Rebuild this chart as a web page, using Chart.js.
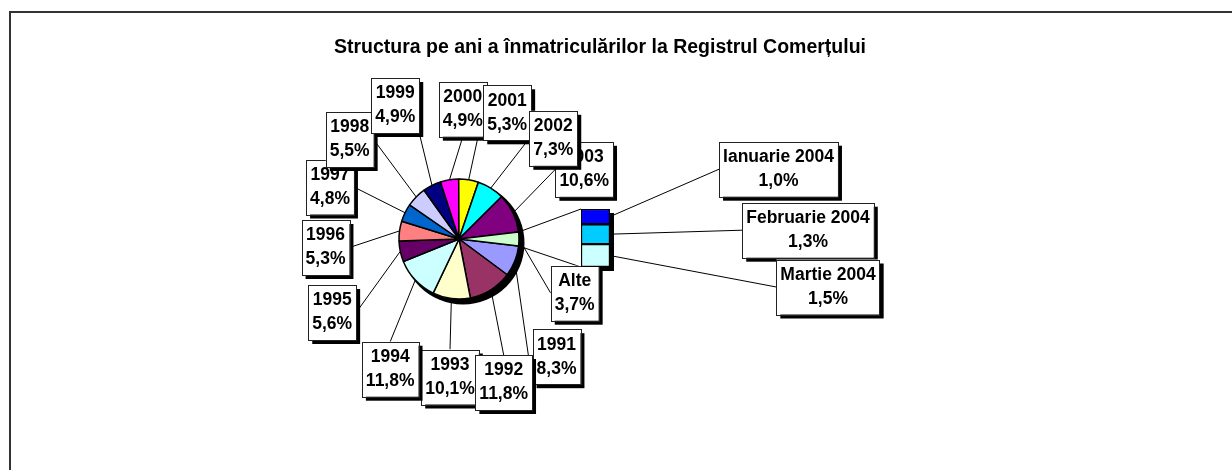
<!DOCTYPE html>
<html>
<head>
<meta charset="utf-8">
<script src="https://cdn.jsdelivr.net/npm/chart.js@4.4.1/dist/chart.umd.min.js"></script>
<style>
html,body{margin:0;padding:0;background:#fff;overflow:hidden;}
#wrap{position:relative;width:1232px;height:470px;background:#fff;}
#pieCanvas{position:absolute;left:0;top:0;z-index:0;}
#barCanvas{position:absolute;left:580px;top:208px;z-index:1;}
</style>
</head>
<body>
<div id="wrap">
<canvas id="pieCanvas" width="1232" height="470"></canvas>
<canvas id="barCanvas" width="38" height="67"></canvas>
</div>
<script>
// ---------- data ----------
const chartTitle = 'Structura pe ani a înmatriculărilor la Registrul Comerțului';
const pieCategories = ['1991','1992','1993','1994','1995','1996','1997','1998','1999','2000','2001','2002','2003','Alte'];
const pieValues = [8.3, 11.8, 10.1, 11.8, 5.6, 5.3, 4.8, 5.5, 4.9, 4.9, 5.3, 7.3, 10.6, 3.7];
const barCategories = ['Ianuarie 2004', 'Februarie 2004', 'Martie 2004'];
const barValues = [1.0, 1.3, 1.5];

// ---------- styles ----------
const pieColors = ['#9999FF','#993366','#FFFFCC','#CCFFFF','#660066','#FF8080','#0066CC','#CCCCFF','#000080','#FF00FF','#FFFF00','#00FFFF','#800080','#CCFFCC'];
const barColors = ['#0000FF','#00CCFF','#CCFFFF'];
const labelFont = 'bold 17.5px "Liberation Sans", Arial, sans-serif';
const titleFont = 'bold 19.5px "Liberation Sans", Arial, sans-serif';

// label box layout (box centre + where the leader line attaches)
const labelLayout = {
  '1991': {cx: 556.5, cy: 356.7, anchor: 'bl'},
  '1992': {cx: 503.7, cy: 382.5, anchor: 'top'},
  '1993': {cx: 450.0, cy: 377.0, anchor: 'top'},
  '1994': {cx: 390.2, cy: 369.2, anchor: 'top'},
  '1995': {cx: 332.2, cy: 312.5, anchor: 'right'},
  '1996': {cx: 325.5, cy: 247.5, anchor: 'right'},
  '1997': {cx: 330.0, cy: 187.0, anchor: 'right'},
  '1998': {cx: 349.7, cy: 139.5, anchor: 'right'},
  '1999': {cx: 395.3, cy: 105.5, anchor: 'br'},
  '2000': {cx: 462.8, cy: 109.2, anchor: 'bottom'},
  '2001': {cx: 507.2, cy: 112.8, anchor: 'left'},
  '2002': {cx: 553.3, cy: 138.3, anchor: 'left'},
  '2003': {cx: 584.2, cy: 169.3, anchor: 'left'},
  'Alte': {cx: 574.7, cy: 293.2, anchor: 'left'},
  'Ianuarie 2004': {cx: 778.5, cy: 169.2, anchor: 'left'},
  'Februarie 2004': {cx: 808.0, cy: 230.2, anchor: 'left'},
  'Martie 2004': {cx: 828.0, cy: 287.0, anchor: 'left'}
};
const boxDrawOrder = ['1991','1993','1992','1994','1995','1996','1997','1998','1999','2000','2001','2003','2002','Alte','Ianuarie 2004','Februarie 2004','Martie 2004'];
const barCanvasOffset = {x: 580, y: 208};

const pieTotal = pieValues.reduce((a, b) => a + b, 0);
const barTotal = barValues.reduce((a, b) => a + b, 0);
const otherShare = pieValues[pieValues.length - 1] / pieTotal;
const pieRotation = 90 + otherShare * 360 / 2;

const fmt = v => v.toFixed(1).replace('.', ',') + '%';

// ---------- bar chart (breakdown of "Alte") ----------
const barChart = new Chart(document.getElementById('barCanvas'), {
  type: 'bar',
  data: {
    labels: [''],
    datasets: barCategories.map((c, i) => ({
      label: c,
      data: [barValues[i]],
      backgroundColor: barColors[i],
      borderColor: '#000',
      borderWidth: 1.5,
      borderSkipped: false,
      barPercentage: 1,
      categoryPercentage: 1
    }))
  },
  options: {
    responsive: false,
    animation: false,
    devicePixelRatio: 1,
    layout: {padding: {left: 1, top: 1, right: 8, bottom: 8}},
    plugins: {legend: {display: false}, tooltip: {enabled: false}, title: {display: false}},
    scales: {
      x: {display: false, stacked: true},
      y: {display: false, stacked: true, reverse: true, min: 0, max: barTotal}
    }
  }
});

function barExtent() {
  let l = Infinity, r = -Infinity, t = Infinity, b = -Infinity;
  barChart.data.datasets.forEach((ds, i) => {
    barChart.getDatasetMeta(i).data.forEach(el => {
      l = Math.min(l, el.x - el.width / 2); r = Math.max(r, el.x + el.width / 2);
      t = Math.min(t, el.y, el.base); b = Math.max(b, el.y, el.base);
    });
  });
  return {l: l + barCanvasOffset.x, r: r + barCanvasOffset.x, t: t + barCanvasOffset.y, b: b + barCanvasOffset.y};
}

// ---------- pie chart with labels ----------
function boxRect(ctx, name, lines) {
  const L = labelLayout[name];
  ctx.font = labelFont;
  const w = Math.max(...lines.map(s => ctx.measureText(s).width)) + 8;
  const h = 55;
  return {l: L.cx - w / 2, r: L.cx + w / 2, t: L.cy - h / 2, b: L.cy + h / 2, w, h, cx: L.cx, cy: L.cy};
}
function anchorOf(b, a) {
  switch (a) {
    case 'top': return [b.cx, b.t];
    case 'bottom': return [b.cx, b.b];
    case 'left': return [b.l, b.cy];
    case 'right': return [b.r, b.cy];
    case 'bl': return [b.l, b.b];
    case 'br': return [b.r, b.b];
  }
  return [b.cx, b.cy];
}
function labelLines(name) {
  const pi = pieCategories.indexOf(name);
  if (pi >= 0) return [name, fmt(pieValues[pi])];
  const bi = barCategories.indexOf(name);
  return [name, fmt(barValues[bi])];
}
function line(ctx, x1, y1, x2, y2) {
  ctx.beginPath(); ctx.moveTo(x1, y1); ctx.lineTo(x2, y2); ctx.stroke();
}

const decorPlugin = {
  id: 'decor',
  beforeDraw(chart) {
    const ctx = chart.ctx;
    ctx.save();
    ctx.strokeStyle = '#333';
    ctx.lineWidth = 2;
    ctx.strokeRect(10, 12, 1600, 800);
    ctx.fillStyle = '#000';
    ctx.font = titleFont;
    ctx.textAlign = 'center';
    ctx.textBaseline = 'alphabetic';
    ctx.fillText(chartTitle, 600, 52.5);
    ctx.restore();
  },
  beforeDatasetsDraw(chart) {
    const ctx = chart.ctx;
    const arcs = chart.getDatasetMeta(0).data;
    ctx.save();
    ctx.strokeStyle = '#000';
    ctx.lineWidth = 1;
    // leader lines from the slices
    arcs.forEach((arc, i) => {
      const name = pieCategories[i];
      const mid = (arc.startAngle + arc.endAngle) / 2;
      const px = arc.x + Math.cos(mid) * arc.outerRadius;
      const py = arc.y + Math.sin(mid) * arc.outerRadius;
      const b = boxRect(ctx, name, labelLines(name));
      const [ax, ay] = anchorOf(b, labelLayout[name].anchor);
      line(ctx, px, py, ax, ay);
    });
    // leader lines from the bar segments
    barChart.data.datasets.forEach((ds, i) => {
      barChart.getDatasetMeta(i).data.forEach(el => {
        const name = barCategories[i];
        const rx = barCanvasOffset.x + el.x + el.width / 2;
        const my = barCanvasOffset.y + (el.y + el.base) / 2;
        const b = boxRect(ctx, name, labelLines(name));
        const [ax, ay] = anchorOf(b, labelLayout[name].anchor);
        line(ctx, rx, my, ax, ay);
      });
    });
    const be = barExtent();
    // connectors from the "Alte" slice to the bar
    const other = arcs[arcs.length - 1];
    line(ctx, other.x + Math.cos(other.startAngle) * other.outerRadius, other.y + Math.sin(other.startAngle) * other.outerRadius, be.l, be.t);
    line(ctx, other.x + Math.cos(other.endAngle) * other.outerRadius, other.y + Math.sin(other.endAngle) * other.outerRadius, be.l, be.b);
    // bar shadow (bar canvas sits on top)
    ctx.fillStyle = '#000';
    ctx.fillRect(be.l + 4, be.t + 4, be.r - be.l, be.b - be.t);
    // pie shadow
    const a0 = arcs[0];
    ctx.beginPath();
    ctx.arc(a0.x + 4, a0.y + 4, a0.outerRadius + 1.5, 0, Math.PI * 2);
    ctx.fill();
    ctx.restore();
  },
  afterDatasetsDraw(chart) {
    const ctx = chart.ctx;
    ctx.save();
    boxDrawOrder.forEach(name => {
      const lines = labelLines(name);
      const b = boxRect(ctx, name, lines);
      ctx.fillStyle = '#000';
      ctx.fillRect(b.l + 4, b.t + 4, b.w, b.h);
      ctx.fillStyle = '#fff';
      ctx.fillRect(b.l, b.t, b.w, b.h);
      ctx.strokeStyle = '#222';
      ctx.lineWidth = 1;
      ctx.strokeRect(Math.round(b.l) + 0.5, Math.round(b.t) + 0.5, Math.round(b.w), Math.round(b.h));
      ctx.fillStyle = '#000';
      ctx.font = labelFont;
      ctx.textAlign = 'center';
      ctx.textBaseline = 'middle';
      ctx.fillText(lines[0], b.cx, b.cy - 12);
      ctx.fillText(lines[1], b.cx, b.cy + 12);
    });
    ctx.restore();
  }
};

const pieChart = new Chart(document.getElementById('pieCanvas'), {
  type: 'pie',
  data: {
    labels: pieCategories,
    datasets: [{
      data: pieValues,
      backgroundColor: pieColors,
      borderColor: '#000',
      borderWidth: 1.5
    }]
  },
  options: {
    responsive: false,
    animation: false,
    devicePixelRatio: 1,
    rotation: pieRotation,
    radius: 60,
    layout: {padding: {left: 394, right: 708, top: 174, bottom: 166}},
    plugins: {legend: {display: false}, tooltip: {enabled: false}, title: {display: false}}
  },
  plugins: [decorPlugin]
});
</script>
</body>
</html>
